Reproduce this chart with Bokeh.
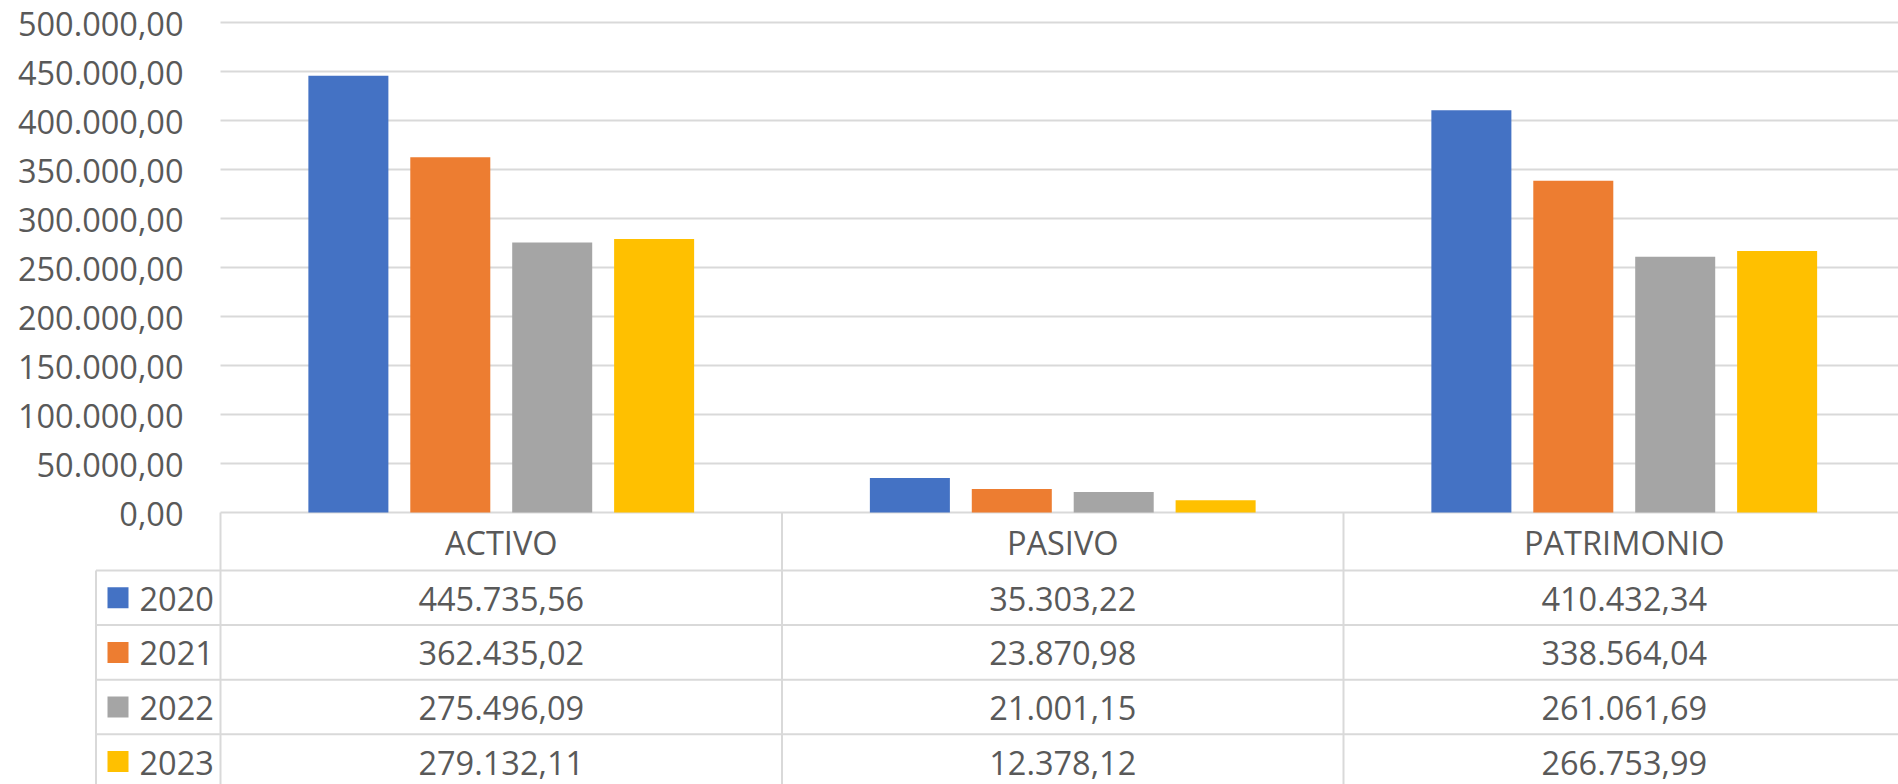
from bokeh.plotting import figure
from bokeh.models import Range1d
from bokeh.core.properties import value
from bokeh.embed import file_html
from bokeh.resources import INLINE

# ---------------- data ----------------
categories = ["ACTIVO", "PASIVO", "PATRIMONIO"]
years = ["2020", "2021", "2022", "2023"]
values_2020 = [445735.56, 35303.22, 410432.34]
values_2021 = [362435.02, 23870.98, 338564.04]
values_2022 = [275496.09, 21001.15, 261061.69]
values_2023 = [279132.11, 12378.12, 266753.99]
series = [values_2020, values_2021, values_2022, values_2023]
colors = ["#4472C4", "#ED7D31", "#A5A5A5", "#FFC000"]
y_ticks = [0, 50000, 100000, 150000, 200000, 250000, 300000, 350000, 400000, 450000, 500000]

# ---------------- layout constants (pixels) ----------------
W, H = 1898, 784
CAT_PX = 561.5           # pixels per category
X0_PX = 220              # pixel column where the plot area starts
Y0_PX = 512              # pixel row of value 0
YMAX_PX = 22             # pixel row of 500000
PX_PER_UNIT = (Y0_PX - YMAX_PX) / 500000
STEP = 0.1815
BAR_W = 0.1425
GRID = "#D9D9D9"
TXT = "#595959"
FONT = "Open Sans"
FSIZE = "32.5px"
HEADER_H = 58
ROW_H = 54.6
LEG_LEFT_PX = 95.5


def y_of_px(py):
    return (Y0_PX - py) / PX_PER_UNIT


def x_of_px(px):
    return (px - X0_PX) / CAT_PX


def fmt(v):
    s = f"{v:,.2f}"
    return s.replace(",", "X").replace(".", ",").replace("X", ".")


x_end = x_of_px(W)
p = figure(width=W, height=H, x_range=Range1d(x_of_px(0), x_end),
           y_range=Range1d(y_of_px(H), y_of_px(0)),
           output_backend="svg", toolbar_location=None,
           x_axis_location=None, y_axis_location=None,
           min_border_left=0, min_border_right=0, min_border_top=0, min_border_bottom=0)
p.outline_line_color = None
p.xgrid.visible = False
p.ygrid.visible = False
p.background_fill_color = "white"
p.border_fill_color = "white"

# value gridlines (the 0 line doubles as the table's top border)
p.segment(x0=[0.0] * len(y_ticks), y0=y_ticks, x1=[x_end] * len(y_ticks), y1=y_ticks,
          line_color=GRID, line_width=2)

# y tick labels
p.text(x=[0.0] * len(y_ticks), y=y_ticks, text=[fmt(v) for v in y_ticks],
       x_offset=-37, y_offset=1, text_align="right", text_baseline="middle",
       text_font=value(FONT), text_font_size=FSIZE, text_color=TXT)

# bars
for j, vals in enumerate(series):
    xs = [i + 0.5 + (j - 1.5) * STEP for i in range(len(categories))]
    p.vbar(x=xs, top=vals, bottom=0, width=BAR_W, fill_color=colors[j], line_color=None)

# ---------------- data table ----------------
leg_left = x_of_px(LEG_LEFT_PX)
table_top = Y0_PX
n_rows = len(years)
row_px = [table_top + HEADER_H + k * ROW_H for k in range(n_rows + 1)]
row_y = [y_of_px(r) for r in row_px]
p.segment(x0=[leg_left] * len(row_y), y0=row_y, x1=[x_end] * len(row_y), y1=row_y,
          line_color=GRID, line_width=2)
y_bottom = y_of_px(H + 20)
vx = [float(i) for i in range(len(categories) + 1)]
p.segment(x0=vx, y0=[0.0] * len(vx), x1=vx, y1=[y_bottom] * len(vx), line_color=GRID, line_width=2)
p.segment(x0=[leg_left], y0=[row_y[0]], x1=[leg_left], y1=[y_bottom], line_color=GRID, line_width=2)

p.text(x=[i + 0.5 for i in range(len(categories))],
       y=[y_of_px(table_top + HEADER_H / 2)] * len(categories),
       text=categories, text_align="center", text_baseline="middle", y_offset=1,
       text_font=value(FONT), text_font_size=FSIZE, text_color=TXT)

for j, vals in enumerate(series):
    yc = y_of_px(table_top + HEADER_H + (j + 0.5) * ROW_H)
    p.text(x=[i + 0.5 for i in range(len(categories))], y=[yc] * len(categories),
           text=[fmt(v) for v in vals], text_align="center", text_baseline="middle", y_offset=1,
           text_font=value(FONT), text_font_size=FSIZE, text_color=TXT)
    p.rect(x=[x_of_px(LEG_LEFT_PX + 22)], y=[yc], width=21, height=21,
           width_units="screen", height_units="screen", fill_color=colors[j], line_color=None)
    p.text(x=[leg_left], y=[yc], text=[years[j]], x_offset=43.5, y_offset=1,
           text_align="left", text_baseline="middle",
           text_font=value(FONT), text_font_size=FSIZE, text_color=TXT)

open("out.html", "w").write(file_html(p, INLINE))
